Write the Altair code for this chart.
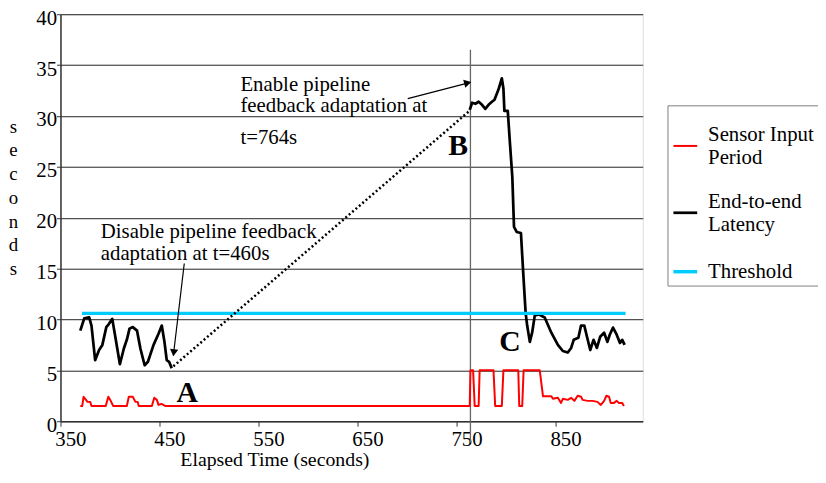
import altair as alt
import pandas as pd

FONT = "Liberation Serif"

# ---------------- data ----------------
series_names = ["Sensor Input Period", "End-to-end Latency", "Threshold"]
series_colors = ["#ff0000", "#000000", "#00ccff"]
series_widths = [2, 3.5, 6.5]

sensor_t = [370, 372, 373.3, 375, 377.3, 380, 381.3, 395.7, 398.3, 400.7, 403.3,
            417, 419, 423, 425.7, 428, 429, 442.3, 444.7, 447.3, 449, 452, 455.7,
            459, 763.3, 764, 766.7, 768.3, 772.3, 773.3, 787.3, 789, 795.7, 797.3,
            812.3, 813.3, 816.3, 817.7, 834, 837.3, 845.7, 847.3, 852.3, 855.5,
            857.3, 862.3, 865.7, 869, 872.3, 875.7, 877.3, 882.3, 887.3, 892.3,
            895.7, 899, 901.3, 904, 905.7, 909, 911.7, 914, 917.3, 919]
sensor_v = [1.5, 1.5, 2.4, 2.2, 1.9, 1.9, 1.5, 1.5, 2.4, 2.0, 1.5,
            1.5, 2.4, 2.4, 1.9, 1.9, 1.5, 1.5, 2.3, 2.1, 1.6, 1.7, 1.5,
            1.5, 1.5, 5.0, 5.0, 1.5, 1.5, 5.0, 5.0, 1.5, 1.5, 5.0,
            5.0, 1.5, 1.5, 5.0, 5.0, 2.45, 2.45, 2.2, 2.3, 1.8,
            2.2, 2.1, 2.3, 2.0, 2.5, 2.4, 2.1, 2.0, 2.0, 1.9,
            1.6, 2.0, 2.5, 2.4, 1.8, 1.8, 2.0, 1.8, 1.8, 1.5]

lat_a_t = [370, 374, 379, 381.3, 385, 389, 392.3, 396.3, 399, 402.3, 405.7, 410,
           414, 417.3, 419.7, 423, 427.3, 430.7, 435, 438.3, 444, 449, 452.3,
           455, 457.3, 459.7, 462.3]
lat_a_v = [8.9, 10.1, 10.2, 9.4, 6.0, 7.0, 7.5, 9.25, 9.57, 10.06, 8.1, 5.6,
           7.15, 8.1, 9.1, 9.25, 8.9, 7.15, 5.5, 5.84, 7.5, 8.6, 9.4,
           7.8, 6.0, 5.84, 5.2]

lat_b_t = [763.3, 765.7, 769, 772.3, 775.7, 779, 782.3, 785.7, 788.3, 792.3, 795.7,
           797.3, 798.3, 801.7, 804, 806.3, 808, 810.7, 815, 817.3, 819.7, 821.3,
           824, 826.3, 829, 833, 839, 845.7, 852.3, 857.3, 862.3, 865.7, 868.3,
           873, 875.7, 879, 881.7, 885, 888.3, 891.7, 895, 899, 902.3, 904.7,
           908, 911.7, 915, 917.3, 919.7]
lat_b_v = [30.6, 31.3, 31.2, 31.4, 31.1, 30.7, 31.1, 31.4, 31.6, 32.6, 33.7,
           32.7, 30.5, 30.5, 27.2, 24.0, 19.1, 18.6, 18.5, 14.6, 10.7, 9.4,
           7.8, 8.7, 10.4, 10.5, 10.2, 8.7, 7.5, 6.9, 6.75, 7.2, 8.0,
           8.2, 9.4, 9.4, 8.3, 7.0, 8.0, 7.2, 8.3, 8.7, 7.8, 8.5,
           9.2, 8.5, 7.7, 8.0, 7.5]

thr_t = [371.7, 920.7]
thr_v = [10.6, 10.6]

gap_t = [464, 763]
gap_v = [5.4, 30.5]

marker_t = [764]
marker_top = [36.5]
marker_bottom = [-2.1]

note_text = ["Disable pipeline feedback", "adaptation at t=460s",
             "Enable pipeline", "feedback adaptation at", "t=764s"]
note_t = [390.7, 390.7, 531.7, 531.7, 531.7]
note_v = [18.64, 16.38, 33.06, 30.95, 27.87]

letter_text = ["A", "B", "C"]
letter_t = [478, 751.5, 804]
letter_v = [2.77, 27.0, 7.8]

arrow_t = [475, 700.7]
arrow_v = [15.5, 31.7]
arrow_t2 = [464, 764]
arrow_v2 = [6.46, 33.3]
head_t = [464.5, 760.1]
head_v = [6.85, 33.22]
head_angle = [186.7, 75.2]

x_ticks = [350, 450, 550, 650, 750, 850]
y_ticks = [0, 5, 10, 15, 20, 25, 30, 35, 40]

# ---------------- tables ----------------
rows = []
for t, v in zip(sensor_t, sensor_v):
    rows.append({"series": series_names[0], "seg": "s", "t": t, "v": v})
for t, v in zip(lat_a_t, lat_a_v):
    rows.append({"series": series_names[1], "seg": "a", "t": t, "v": v})
for t, v in zip(lat_b_t, lat_b_v):
    rows.append({"series": series_names[1], "seg": "b", "t": t, "v": v})
for t, v in zip(thr_t, thr_v):
    rows.append({"series": series_names[2], "seg": "th", "t": t, "v": v})
lines_df = pd.DataFrame(rows)

gap_df = pd.DataFrame({"t": gap_t, "v": gap_v})
marker_df = pd.DataFrame({"t": marker_t, "v": marker_top, "v2": marker_bottom})
note_df = pd.DataFrame({"label": note_text, "t": note_t, "v": note_v})
letter_df = pd.DataFrame({"label": letter_text, "t": letter_t, "v": letter_v})
arrow_df = pd.DataFrame({"t": arrow_t, "v": arrow_v, "t2": arrow_t2, "v2": arrow_v2})
head_df = pd.DataFrame({"t": head_t, "v": head_v, "angle": head_angle})

xscale = alt.Scale(domain=[350, 938], nice=False, zero=False)
yscale = alt.Scale(domain=[0, 40], nice=False, zero=False)

x_axis = alt.Axis(values=x_ticks, title="Elapsed Time (seconds)", grid=False,
                  labelFont=FONT, labelFontSize=21, labelColor="black",
                  labelOffset=10, labelFlush=False, labelPadding=3,
                  tickSize=5, tickColor="#333", domainColor="#333", domainWidth=1.5,
                  titleFont=FONT, titleFontSize=20, titleFontWeight="normal",
                  titleColor="black", titleX=216, titleY=39, titleAlign="center",
                  titleBaseline="middle")
y_axis = alt.Axis(values=y_ticks, title=["s", "e", "c", "o", "n", "d", "s"],
                  grid=True, gridColor="#222", gridWidth=1,
                  labelFont=FONT, labelFontSize=21, labelColor="black",
                  labelPadding=0, labelOffset=4, tickSize=4, tickColor="#333",
                  domainColor="#333", domainWidth=1.5,
                  titleFont=FONT, titleFontSize=19, titleFontWeight="normal",
                  titleColor="black", titleAngle=0, titleLineHeight=24,
                  titleX=-48, titleY=113, titleAlign="center", titleBaseline="middle")

legend = alt.Legend(title=" ", titleFontSize=12, titlePadding=12,
                    orient="none", legendX=613, legendY=92,
                    strokeColor="#808080", padding=4, symbolType="stroke",
                    symbolSize=576, labelOffset=9,
                    labelFont=FONT, labelFontSize=21, labelColor="black",
                    labelBaseline={"expr": "datum.label == 'Threshold' ? 'middle' : 'line-bottom'"},
                    rowPadding=23, labelLimit=200,
                    labelExpr="datum.label == 'Sensor Input Period' ? ['Sensor Input', 'Period'] : datum.label == 'End-to-end Latency' ? ['End-to-end', 'Latency'] : datum.label")

base_x = alt.X("t:Q", scale=xscale, axis=x_axis)
base_y = alt.Y("v:Q", scale=yscale, axis=y_axis)

lines = alt.Chart(lines_df).mark_line(strokeJoin="round").encode(
    x=base_x, y=base_y,
    color=alt.Color("series:N", scale=alt.Scale(domain=series_names, range=series_colors),
                    legend=legend),
    strokeWidth=alt.StrokeWidth("series:N",
                                scale=alt.Scale(domain=series_names, range=series_widths),
                                legend=legend),
    detail="seg:N",
)

gap = alt.Chart(gap_df).mark_line(color="black", strokeWidth=2.5, strokeDash=[2, 2.5]).encode(
    x=alt.X("t:Q", scale=xscale), y=alt.Y("v:Q", scale=yscale))

marker = alt.Chart(marker_df).mark_rule(color="#666", strokeWidth=1.3).encode(
    x=alt.X("t:Q", scale=xscale), y=alt.Y("v:Q", scale=yscale), y2="v2:Q")

notes = alt.Chart(note_df).mark_text(align="left", baseline="middle", font=FONT,
                                     fontSize=21, color="black").encode(
    x=alt.X("t:Q", scale=xscale), y=alt.Y("v:Q", scale=yscale), text="label:N")

letters = alt.Chart(letter_df).mark_text(align="center", baseline="middle", font=FONT,
                                         fontSize=30, fontWeight="bold", color="black").encode(
    x=alt.X("t:Q", scale=xscale), y=alt.Y("v:Q", scale=yscale), text="label:N")

arrows = alt.Chart(arrow_df).mark_rule(color="black", strokeWidth=1.2).encode(
    x=alt.X("t:Q", scale=xscale), y=alt.Y("v:Q", scale=yscale), x2="t2:Q", y2="v2:Q")

heads = alt.Chart(head_df).mark_point(shape="triangle", filled=True, color="black",
                                      size=70, opacity=1).encode(
    x=alt.X("t:Q", scale=xscale), y=alt.Y("v:Q", scale=yscale), angle=alt.Angle("angle:Q", scale=None))

chart = alt.layer(marker, lines, gap, arrows, heads, notes, letters).properties(
    width=588, height=411,
    padding={"left": 53, "top": 4, "right": 177, "bottom": 50},
    autosize=alt.AutoSizeParams(type="none"),
).configure_view(stroke="#808080", strokeWidth=1.5).configure(background="white")

chart.save("out.html", embed_options={"renderer": "svg", "actions": False})
